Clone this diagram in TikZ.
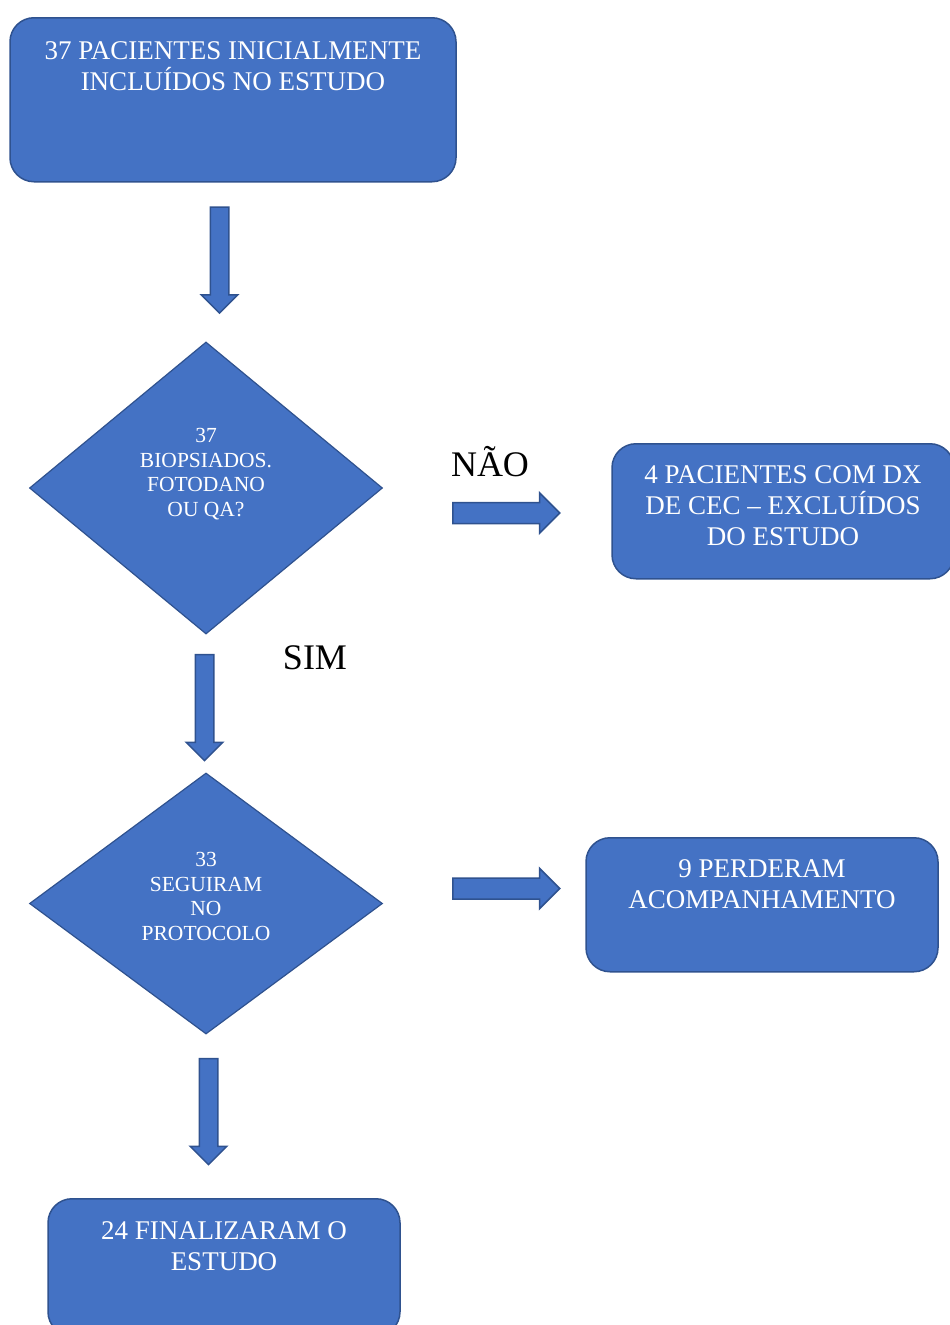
\documentclass[tikz,border=0pt]{standalone}
\usepackage{fontspec}
\setmainfont{Liberation Serif}
\usetikzlibrary{shapes.geometric, shapes.arrows}
\definecolor{boxblue}{HTML}{4472C4}
\definecolor{boxline}{HTML}{2F528F}

\begin{document}
\begin{tikzpicture}[x=1pt,y=-1pt,
  box/.style={rectangle,rounded corners=24pt,fill=boxblue,draw=boxline,line width=1.5pt,
    text=white,align=center,inner sep=0pt,anchor=north,font=\fontsize{27}{31}\selectfont},
  test/.style={diamond,fill=boxblue,draw=boxline,line width=1.2pt,text=white,align=center,
    inner sep=0pt,font=\fontsize{21.5}{24.5}\selectfont},
  down arrow/.style={single arrow,shape border rotate=270,fill=boxblue,draw=boxline,
    line width=1.5pt,inner sep=8.5pt,minimum width=35pt,single arrow head extend=9pt,
    minimum height=106pt},
  right arrow/.style={single arrow,fill=boxblue,draw=boxline,line width=1.5pt,inner sep=9.75pt,
    minimum width=39pt,single arrow head extend=9.75pt,minimum height=107pt},
  answer/.style={anchor=base,font=\fontsize{36}{43}\selectfont}]
  \useasboundingbox (0,0) rectangle (950,1325);
  \node[box,minimum width=446pt,text height=73pt,text depth=91pt] (start) at (233,17)
    {37 PACIENTES INICIALMENTE\\INCLUÍDOS NO ESTUDO};
  \node[down arrow] (a1) at (219.5,255.5) {};
  \node[test,minimum width=353pt,minimum height=292pt,text height=100pt,text depth=44pt]
    (q1) at (206,488) {37\\BIOPSIADOS.\\FOTODANO\\OU QA?};
  \node[answer] (nao) at (490,476) {NÃO};
  \node[right arrow] (r1) at (501,513) {};
  \node[box,minimum width=342pt,text height=102pt,text depth=33pt] (excl) at (783,443)
    {4 PACIENTES COM DX\\DE CEC – EXCLUÍDOS\\DO ESTUDO};
  \node[answer] (sim) at (315,669) {SIM};
  \node[down arrow] (a2) at (204.5,703) {};
  \node[test,minimum width=353pt,minimum height=261pt,text height=100pt,text depth=27pt]
    (q2) at (206,903.5) {33\\SEGUIRAM\\NO\\PROTOCOLO};
  \node[right arrow] (r2) at (501,888.5) {};
  \node[box,minimum width=352pt,text height=71pt,text depth=63pt] (lost) at (762,837)
    {9 PERDERAM\\ACOMPANHAMENTO};
  \node[down arrow] (a3) at (208.5,1107) {};
  \node[box,minimum width=352pt,text height=72pt,text depth=65pt] (final) at (224,1198)
    {24 FINALIZARAM O\\ESTUDO};
\end{tikzpicture}
\end{document}
